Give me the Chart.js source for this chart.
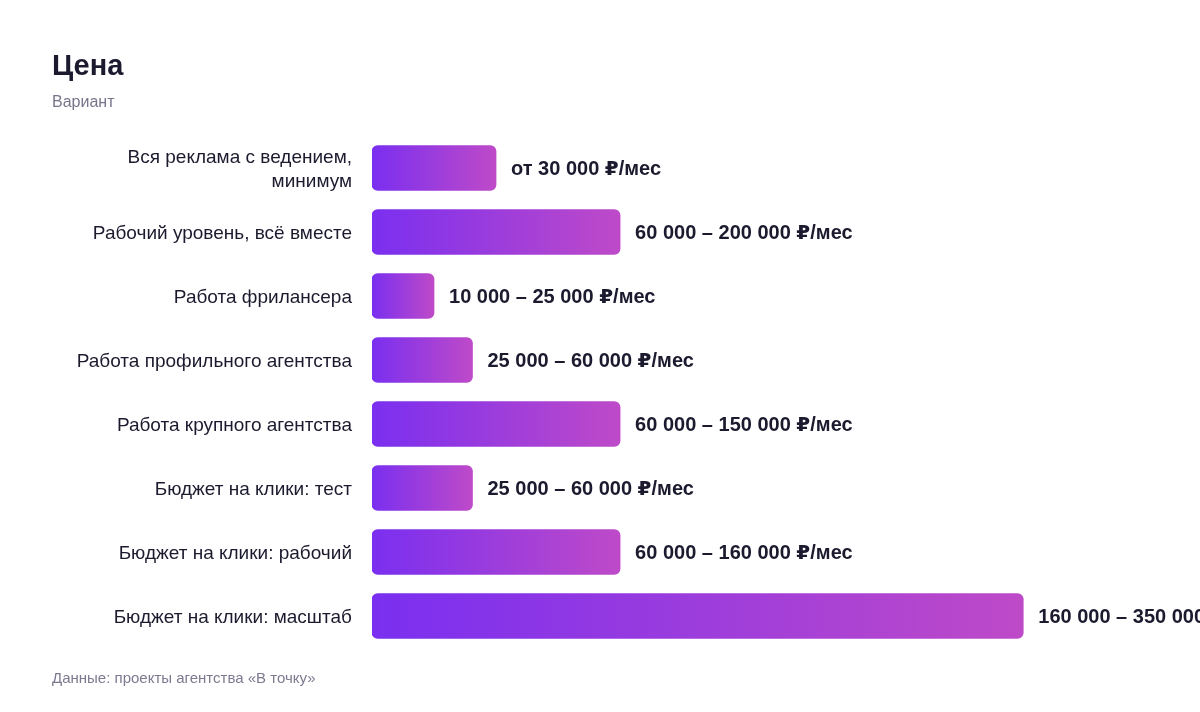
<!DOCTYPE html>
<html lang="ru">
<head>
<meta charset="utf-8">
<script src="https://cdn.jsdelivr.net/npm/chart.js@4.4.1/dist/chart.umd.min.js"></script>
<style>
  html, body { margin: 0; padding: 0; background: #ffffff; }
  #wrap { position: relative; width: 1200px; height: 712px; overflow: hidden; }
  #c { position: absolute; left: 0; top: 0; }
  .t { position: absolute; left: 52px; line-height: 1; white-space: nowrap; font-family: "Liberation Sans", "DejaVu Sans", sans-serif; }
  #title { top: 51px; font-size: 29px; font-weight: 700; color: #1b1a2e; }
  #sub { top: 94px; font-size: 16px; color: #77758a; }
  #foot { top: 670px; font-size: 15px; color: #7c7a90; }
</style>
</head>
<body>
<div id="wrap">
  <canvas id="c" width="1200" height="712"></canvas>
  <div class="t" id="title">Цена</div>
  <div class="t" id="sub">Вариант</div>
  <div class="t" id="foot">Данные: проекты агентства «В точку»</div>
</div>
<script>
const categories = [
  ['Вся реклама с ведением,', 'минимум'],
  'Рабочий уровень, всё вместе',
  'Работа фрилансера',
  'Работа профильного агентства',
  'Работа крупного агентства',
  'Бюджет на клики: тест',
  'Бюджет на клики: рабочий',
  'Бюджет на клики: масштаб'
];
const barValues = [30, 60, 15, 24.3, 60, 24.3, 60, 157.5];
const valueLabels = [
  'от 30 000 ₽/мес',
  '60 000 – 200 000 ₽/мес',
  '10 000 – 25 000 ₽/мес',
  '25 000 – 60 000 ₽/мес',
  '60 000 – 150 000 ₽/мес',
  '25 000 – 60 000 ₽/мес',
  '60 000 – 160 000 ₽/мес',
  '160 000 – 350 000 ₽/мес'
];
const axisMax = 200;

const valueLabelPlugin = {
  id: 'valueLabels',
  afterDatasetsDraw(chart) {
    const ctx = chart.ctx;
    const meta = chart.getDatasetMeta(0);
    ctx.save();
    ctx.font = 'bold 20px "Liberation Sans", "DejaVu Sans", sans-serif';
    ctx.fillStyle = '#1b1a2e';
    ctx.textAlign = 'left';
    ctx.textBaseline = 'middle';
    meta.data.forEach((bar, i) => {
      ctx.fillText(valueLabels[i], bar.x + 15, bar.y + 1);
    });
    ctx.restore();
  }
};

function barGradient(context) {
  const chart = context.chart;
  const xs = chart.scales.x;
  if (!xs || !chart.chartArea) return '#9a3ddc';
  const v = context.raw;
  const x0 = xs.getPixelForValue(0);
  const x1 = xs.getPixelForValue(v);
  if (!isFinite(x0) || !isFinite(x1) || x1 <= x0) return '#9a3ddc';
  const g = chart.ctx.createLinearGradient(x0, 0, x1, 0);
  g.addColorStop(0, '#7a2ff0');
  g.addColorStop(1, '#be4ac8');
  return g;
}

new Chart(document.getElementById('c'), {
  type: 'bar',
  data: {
    labels: categories,
    datasets: [{
      data: barValues,
      backgroundColor: barGradient,
      borderRadius: 6,
      borderSkipped: false,
      barThickness: 45
    }]
  },
  options: {
    indexAxis: 'y',
    responsive: false,
    animation: false,
    layout: { padding: { top: 136, bottom: 64, left: 0, right: 1 } },
    plugins: {
      legend: { display: false },
      tooltip: { enabled: false },
      title: { display: false }
    },
    scales: {
      x: {
        display: false,
        min: 0,
        max: axisMax
      },
      y: {
        grid: { display: false, drawTicks: false },
        border: { display: false },
        afterFit(scale) { scale.width = 372; },
        ticks: {
          padding: 20,
          labelOffset: 2,
          color: '#1b1a2e',
          font: { family: '"Liberation Sans", "DejaVu Sans", sans-serif', size: 19, lineHeight: 1.26 },
          autoSkip: false
        }
      }
    }
  },
  plugins: [valueLabelPlugin]
});
</script>
</body>
</html>
